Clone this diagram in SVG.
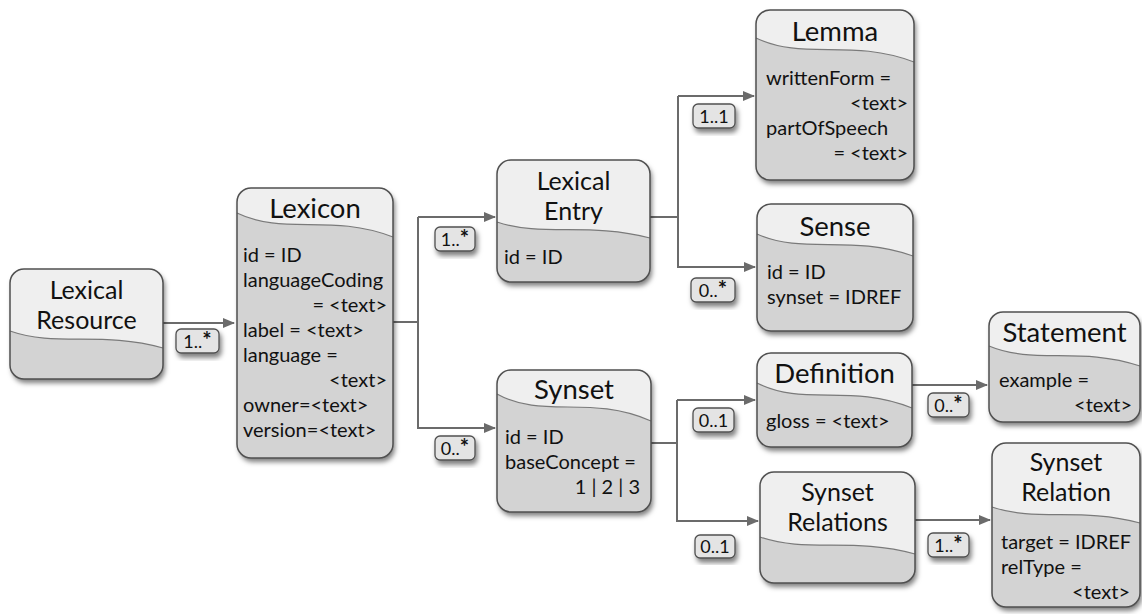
<svg xmlns="http://www.w3.org/2000/svg" width="1142" height="614" viewBox="0 0 1142 614">
<style>
.body{fill:#d3d3d3;stroke:none}
.top{fill:#efefef;stroke:none}
.wave{fill:none;stroke:#7a7a7a;stroke-width:1.2}
.outline{fill:none;stroke:#505050;stroke-width:1.5}
.title{font-family:Lato,"Liberation Sans",sans-serif;font-size:27.5px;fill:#111;text-anchor:middle}
.t2{font-size:25px}
.attr{font-family:Lato,"Liberation Sans",sans-serif;font-size:20px;fill:#111}
.r{text-anchor:end}
.conn{fill:none;stroke:#6b6b6b;stroke-width:2}
.lblbox{fill:#e4e4e4;stroke:#505050;stroke-width:1.3}
.lbl{font-family:Lato,"Liberation Sans",sans-serif;font-size:18px;fill:#111;text-anchor:middle}
.ast{font-size:22px;font-weight:bold}
</style>
<defs>
<filter id="sh" x="-20%" y="-20%" width="150%" height="150%">
<feDropShadow dx="2" dy="4" stdDeviation="2.5" flood-color="#000" flood-opacity="0.5"/>
</filter>
<marker id="arr" markerUnits="userSpaceOnUse" markerWidth="12" markerHeight="10" refX="11" refY="5" orient="auto">
<path d="M0,0 L12,5 L0,10 Z" fill="#6b6b6b"/>
</marker>
</defs>

<g id="connectors">
<path class="conn" d="M163,323 H234" marker-end="url(#arr)"/>
<path class="conn" d="M393,322 H418 M418,217 V429"/>
<path class="conn" d="M418,217 H495" marker-end="url(#arr)"/>
<path class="conn" d="M418,428 H495" marker-end="url(#arr)"/>
<path class="conn" d="M650,217 H678 M678,96 V268"/>
<path class="conn" d="M678,96 H754" marker-end="url(#arr)"/>
<path class="conn" d="M678,267 H755" marker-end="url(#arr)"/>
<path class="conn" d="M651,443 H677 M677,400 V522"/>
<path class="conn" d="M677,400 H755" marker-end="url(#arr)"/>
<path class="conn" d="M677,521 H758" marker-end="url(#arr)"/>
<path class="conn" d="M912,385 H987" marker-end="url(#arr)"/>
<path class="conn" d="M915,520 H990" marker-end="url(#arr)"/>
</g>

<g id="labels">
<g id="lbl-lr"><rect class="lblbox" x="176" y="329" width="43" height="24" rx="5" filter="url(#sh)"/><text class="lbl" x="197.5" y="347.5">1..<tspan class="ast">*</tspan></text></g>
<g id="lbl-le"><rect class="lblbox" x="435" y="227" width="40" height="24" rx="5" filter="url(#sh)"/><text class="lbl" x="455" y="245.5">1..<tspan class="ast">*</tspan></text></g>
<g id="lbl-syn"><rect class="lblbox" x="435" y="436" width="40" height="24" rx="5" filter="url(#sh)"/><text class="lbl" x="455" y="454.5">0..<tspan class="ast">*</tspan></text></g>
<g id="lbl-lemma"><rect class="lblbox" x="693" y="104" width="42" height="24" rx="5" filter="url(#sh)"/><text class="lbl" x="714" y="122.5">1..1</text></g>
<g id="lbl-sense"><rect class="lblbox" x="691" y="278" width="44" height="24" rx="5" filter="url(#sh)"/><text class="lbl" x="713" y="296.5">0..<tspan class="ast">*</tspan></text></g>
<g id="lbl-def"><rect class="lblbox" x="693" y="408" width="41" height="24" rx="5" filter="url(#sh)"/><text class="lbl" x="713.5" y="426.5">0..1</text></g>
<g id="lbl-srels"><rect class="lblbox" x="695" y="535" width="40" height="23" rx="5" filter="url(#sh)"/><text class="lbl" x="715" y="553">0..1</text></g>
<g id="lbl-stmt"><rect class="lblbox" x="928" y="393" width="41" height="24" rx="5" filter="url(#sh)"/><text class="lbl" x="948.5" y="411.5">0..<tspan class="ast">*</tspan></text></g>
<g id="lbl-srel"><rect class="lblbox" x="928" y="533" width="41" height="24" rx="5" filter="url(#sh)"/><text class="lbl" x="948.5" y="551.5">1..<tspan class="ast">*</tspan></text></g>
</g>

<g id="lexical-resource">
<rect class="body" x="10" y="269" width="153" height="110" rx="14" filter="url(#sh)"/>
<path class="top" d="M10,331 V283 Q10,269 24,269 H149 Q163,269 163,283 V348 C101.8,331 55.9,347.2 10,331 Z"/>
<path class="wave" d="M10,331 C55.9,347.2 101.8,331 163,348"/>
<rect class="outline" x="10" y="269" width="153" height="110" rx="14"/>
<text class="title t2" x="86.5" y="299">Lexical<tspan x="86.5" dy="30">Resource</tspan></text>
</g>

<g id="lexicon">
<rect class="body" x="237" y="188" width="156" height="270" rx="14" filter="url(#sh)"/>
<path class="top" d="M237,213 V202 Q237,188 251,188 H379 Q393,188 393,202 V237 C330.6,213 283.8,235.8 237,213 Z"/>
<path class="wave" d="M237,213 C283.8,235.8 330.6,213 393,237"/>
<rect class="outline" x="237" y="188" width="156" height="270" rx="14"/>
<text class="title" x="315" y="218">Lexicon</text>
<text class="attr" x="243" y="262">id = ID</text>
<text class="attr" x="243" y="287">languageCoding</text>
<text class="attr r" x="387" y="312">= &lt;text&gt;</text>
<text class="attr" x="243" y="337">label = &lt;text&gt;</text>
<text class="attr" x="243" y="362">language =</text>
<text class="attr r" x="387" y="387">&lt;text&gt;</text>
<text class="attr" x="243" y="412">owner=&lt;text&gt;</text>
<text class="attr" x="243" y="437">version=&lt;text&gt;</text>
</g>

<g id="lexical-entry">
<rect class="body" x="497" y="160" width="153" height="122" rx="14" filter="url(#sh)"/>
<path class="top" d="M497,222 V174 Q497,160 511,160 H636 Q650,160 650,174 V238 C588.8,222 542.9,237.2 497,222 Z"/>
<path class="wave" d="M497,222 C542.9,237.2 588.8,222 650,238"/>
<rect class="outline" x="497" y="160" width="153" height="122" rx="14"/>
<text class="title t2" x="573.5" y="190">Lexical<tspan x="573.5" dy="30">Entry</tspan></text>
<text class="attr" x="504" y="264">id = ID</text>
</g>

<g id="synset">
<rect class="body" x="497" y="370" width="154" height="142" rx="14" filter="url(#sh)"/>
<path class="top" d="M497,394 V384 Q497,370 511,370 H637 Q651,370 651,384 V421 C589.4,394 543.2,419.65 497,394 Z"/>
<path class="wave" d="M497,394 C543.2,419.65 589.4,394 651,421"/>
<rect class="outline" x="497" y="370" width="154" height="142" rx="14"/>
<text class="title" x="574" y="399">Synset</text>
<text class="attr" x="505" y="444">id = ID</text>
<text class="attr" x="505" y="469">baseConcept =</text>
<text class="attr r" x="640" y="494">1 | 2 | 3</text>
</g>

<g id="lemma">
<rect class="body" x="756" y="10" width="158" height="170" rx="14" filter="url(#sh)"/>
<path class="top" d="M756,38 V24 Q756,10 770,10 H900 Q914,10 914,24 V62 C850.8,38 803.4,60.8 756,38 Z"/>
<path class="wave" d="M756,38 C803.4,60.8 850.8,38 914,62"/>
<rect class="outline" x="756" y="10" width="158" height="170" rx="14"/>
<text class="title" x="835" y="41">Lemma</text>
<text class="attr" x="766" y="85">writtenForm =</text>
<text class="attr r" x="908" y="110">&lt;text&gt;</text>
<text class="attr" x="766" y="135">partOfSpeech</text>
<text class="attr r" x="908" y="160">= &lt;text&gt;</text>
</g>

<g id="sense">
<rect class="body" x="757" y="204" width="156" height="127" rx="14" filter="url(#sh)"/>
<path class="top" d="M757,234 V218 Q757,204 771,204 H899 Q913,204 913,218 V256 C850.6,234 803.8,254.9 757,234 Z"/>
<path class="wave" d="M757,234 C803.8,254.9 850.6,234 913,256"/>
<rect class="outline" x="757" y="204" width="156" height="127" rx="14"/>
<text class="title" x="835" y="236">Sense</text>
<text class="attr" x="767" y="279">id = ID</text>
<text class="attr" x="767" y="304">synset = IDREF</text>
</g>

<g id="definition">
<rect class="body" x="757" y="353" width="155" height="94" rx="14" filter="url(#sh)"/>
<path class="top" d="M757,383 V367 Q757,353 771,353 H898 Q912,353 912,367 V408 C850,383 803.5,406.75 757,383 Z"/>
<path class="wave" d="M757,383 C803.5,406.75 850,383 912,408"/>
<rect class="outline" x="757" y="353" width="155" height="94" rx="14"/>
<text class="title" x="834.5" y="383">Definition</text>
<text class="attr" x="766" y="428">gloss = &lt;text&gt;</text>
</g>

<g id="statement">
<rect class="body" x="989" y="312" width="151" height="110" rx="14" filter="url(#sh)"/>
<path class="top" d="M989,346 V326 Q989,312 1003,312 H1126 Q1140,312 1140,326 V366 C1079.6,346 1034.3,365 989,346 Z"/>
<path class="wave" d="M989,346 C1034.3,365 1079.6,346 1140,366"/>
<rect class="outline" x="989" y="312" width="151" height="110" rx="14"/>
<text class="title" x="1064.5" y="342">Statement</text>
<text class="attr" x="999" y="387">example =</text>
<text class="attr r" x="1132" y="412">&lt;text&gt;</text>
</g>

<g id="synset-relations">
<rect class="body" x="760" y="472" width="155" height="111" rx="14" filter="url(#sh)"/>
<path class="top" d="M760,537 V486 Q760,472 774,472 H901 Q915,472 915,486 V554 C853,537 806.5,553.15 760,537 Z"/>
<path class="wave" d="M760,537 C806.5,553.15 853,537 915,554"/>
<rect class="outline" x="760" y="472" width="155" height="111" rx="14"/>
<text class="title t2" x="837.5" y="501">Synset<tspan x="837.5" dy="30">Relations</tspan></text>
</g>

<g id="synset-relation">
<rect class="body" x="992" y="443" width="148" height="164" rx="14" filter="url(#sh)"/>
<path class="top" d="M992,507 V457 Q992,443 1006,443 H1126 Q1140,443 1140,457 V523 C1080.8,507 1036.4,522.2 992,507 Z"/>
<path class="wave" d="M992,507 C1036.4,522.2 1080.8,507 1140,523"/>
<rect class="outline" x="992" y="443" width="148" height="164" rx="14"/>
<text class="title t2" x="1066" y="471">Synset<tspan x="1066" dy="30">Relation</tspan></text>
<text class="attr" x="1001" y="549">target = IDREF</text>
<text class="attr" x="1001" y="574">relType =</text>
<text class="attr r" x="1130" y="599">&lt;text&gt;</text>
</g>
</svg>
